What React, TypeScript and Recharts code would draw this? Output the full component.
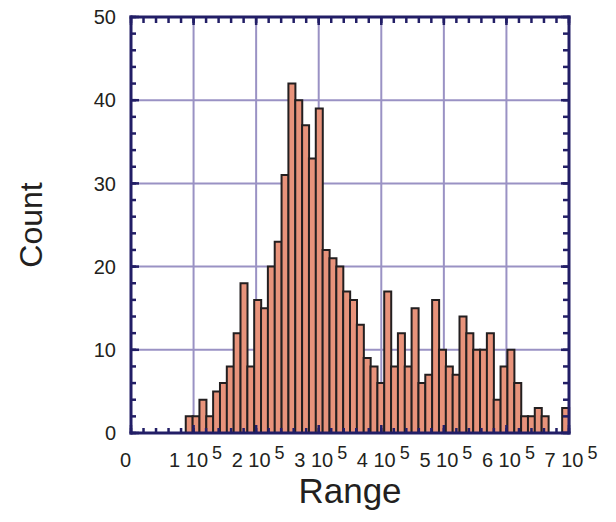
import React from 'react';
import { BarChart, Bar, XAxis, YAxis, CartesianGrid } from 'recharts';

// ---- data ----
const X_MAX = 700000;
const BIN_COUNT = 64;
const BIN_WIDTH = X_MAX / BIN_COUNT;
// counts per bin (bins of width X_MAX/64 starting at 0)
const counts: number[] = [
  0, 0, 0, 0, 0, 0, 0, 0,
  2, 2, 4, 2, 5, 6, 8, 12, 18, 8,
  16, 15, 20, 23, 31, 42, 40, 37, 33, 39,
  22, 21, 20, 17, 16, 13, 9, 8, 6, 17,
  8, 12, 8, 15, 6, 7, 16, 10, 8, 7,
  14, 12, 10, 10, 12, 4, 8, 10, 6, 2,
  2, 3, 2, 0, 0, 3,
];
const xTickValues: number[] = [0, 100000, 200000, 300000, 400000, 500000, 600000, 700000];
const xTickMantissa: string[] = ['0', '1', '2', '3', '4', '5', '6', '7'];
const xTickExponent = '5';
const xMinorTicks: number[] = [];
for (let v = 0; v <= X_MAX; v += 20000) xMinorTicks.push(v);
const yTickValues: number[] = [0, 10, 20, 30, 40, 50];
const yMinorTicks: number[] = [];
for (let v = 0; v <= 50; v += 2) yMinorTicks.push(v);

const data = counts.map((c, i) => ({ bin: i, x: (i + 0.5) * BIN_WIDTH, count: c }));

// ---- styles ----
const NAVY = '#221e66';
const GRID = '#9a92c4';
const FILL = '#e8937b';
const EDGE = '#231f20';
const FONT = '"Liberation Sans", Arial, Helvetica, sans-serif';
const TEXT = '#231f20';

const axisLineStyle = { stroke: NAVY, strokeWidth: 3, strokeLinecap: 'square' as const };
const tickLineStyle = { stroke: NAVY, strokeWidth: 2.5 };
const noTick = () => <g />;

const XTick = (props: any) => {
  const { x, y, payload } = props;
  const idx = xTickValues.indexOf(payload.value);
  const base = xTickMantissa[idx] ?? '';
  const baseline = y + 41.7;
  if (payload.value === 0) {
    return (
      <text x={x - 5.5} y={baseline} textAnchor="middle" fontFamily={FONT} fontSize={20} fill={TEXT}>
        {base}
      </text>
    );
  }
  return (
    <text x={x + 2} y={baseline} textAnchor="middle" fontFamily={FONT} fontSize={20} fill={TEXT}>
      <tspan>{base + ' 10'}</tspan>
      <tspan dx={4} dy={-8} fontSize={18}>{xTickExponent}</tspan>
    </text>
  );
};

const YTick = (props: any) => {
  const { x, y, payload } = props;
  return (
    <text x={x - 23} y={y} dy="0.36em" textAnchor="end" fontFamily={FONT} fontSize={20} fill={TEXT}>
      {payload.value}
    </text>
  );
};

const CountLabel = (props: any) => {
  const vb = props.viewBox || { x: 0, y: 17, width: 123, height: 416 };
  const cx = vb.x + 34;
  const cy = vb.y + vb.height / 2;
  return (
    <text x={cx} y={cy} transform={`rotate(-90, ${cx}, ${cy})`} textAnchor="middle" fontFamily={FONT} fontSize={32} fill={TEXT}>
      Count
    </text>
  );
};

const RangeLabel = (props: any) => {
  const vb = props.viewBox || { x: 123, y: 433, width: 438, height: 85 };
  return (
    <text x={vb.x + vb.width / 2} y={vb.y + 70} textAnchor="middle" fontFamily={FONT} fontSize={35} fill={TEXT}>
      Range
    </text>
  );
};

const xNum = {
  type: 'number' as const,
  dataKey: 'x',
  domain: [0, X_MAX] as [number, number],
  allowDataOverflow: true,
  interval: 0 as const,
};
const yNum = {
  type: 'number' as const,
  dataKey: 'count',
  domain: [0, 50] as [number, number],
  allowDataOverflow: true,
  interval: 0 as const,
};

export default function App() {
  return (
    <div style={{ marginTop: -8 }}>
      <BarChart
        width={600}
        height={518}
        data={data}
        margin={{ top: 17, right: 39, bottom: 0, left: 0 }}
        barCategoryGap={0}
        barGap={0}
      >
        <XAxis xAxisId="cat" dataKey="bin" type="category" hide height={0} />
        <CartesianGrid xAxisId="num" yAxisId="left" stroke={GRID} strokeWidth={2} />
        <Bar
          dataKey="count"
          xAxisId="cat"
          yAxisId="left"
          fill={FILL}
          stroke={EDGE}
          strokeWidth={2}
          isAnimationActive={false}
        />
        {/* bottom: labels + major inward ticks */}
        <XAxis
          xAxisId="num"
          {...xNum}
          ticks={xTickValues}
          height={85}
          tickSize={-8}
          tickMargin={0}
          axisLine={axisLineStyle}
          tickLine={tickLineStyle}
          tick={<XTick />}
          label={{ content: RangeLabel }}
        />
        <XAxis
          xAxisId="bminor"
          {...xNum}
          ticks={xMinorTicks}
          mirror
          height={1}
          tickSize={5}
          axisLine={false}
          tickLine={tickLineStyle}
          tick={noTick}
        />
        {/* top frame */}
        <XAxis
          xAxisId="tmajor"
          orientation="top"
          {...xNum}
          ticks={xTickValues}
          mirror
          height={1}
          tickSize={8}
          axisLine={axisLineStyle}
          tickLine={tickLineStyle}
          tick={noTick}
        />
        <XAxis
          xAxisId="tminor"
          orientation="top"
          {...xNum}
          ticks={xMinorTicks}
          mirror
          height={1}
          tickSize={5}
          axisLine={false}
          tickLine={tickLineStyle}
          tick={noTick}
        />
        {/* left: labels + major inward ticks */}
        <YAxis
          yAxisId="left"
          {...yNum}
          ticks={yTickValues}
          width={123}
          tickSize={-8}
          tickMargin={0}
          axisLine={axisLineStyle}
          tickLine={tickLineStyle}
          tick={<YTick />}
          label={{ content: CountLabel }}
        />
        <YAxis
          yAxisId="lminor"
          {...yNum}
          ticks={yMinorTicks}
          mirror
          width={1}
          tickSize={5}
          axisLine={false}
          tickLine={tickLineStyle}
          tick={noTick}
        />
        {/* right frame */}
        <YAxis
          yAxisId="rmajor"
          orientation="right"
          {...yNum}
          ticks={yTickValues}
          mirror
          width={1}
          tickSize={8}
          axisLine={axisLineStyle}
          tickLine={tickLineStyle}
          tick={noTick}
        />
        <YAxis
          yAxisId="rminor"
          orientation="right"
          {...yNum}
          ticks={yMinorTicks}
          mirror
          width={1}
          tickSize={5}
          axisLine={false}
          tickLine={tickLineStyle}
          tick={noTick}
        />
      </BarChart>
    </div>
  );
}
